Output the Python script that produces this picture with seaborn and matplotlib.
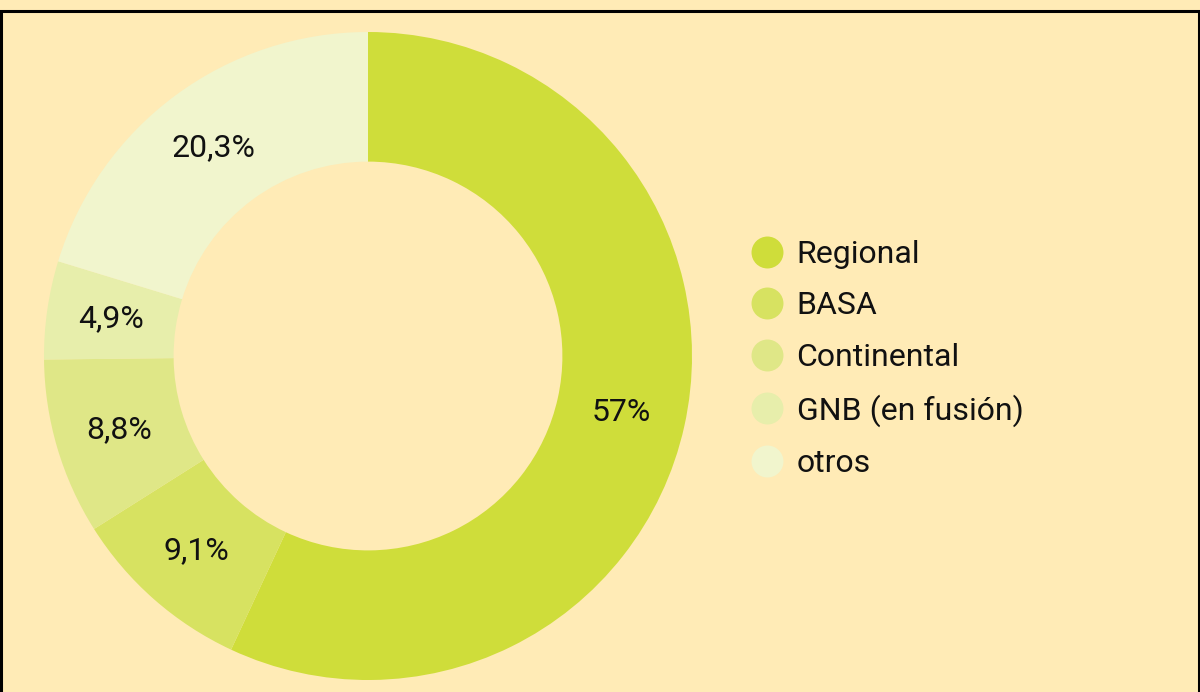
import matplotlib
matplotlib.use("Agg")
import matplotlib.pyplot as plt
import seaborn as sns
from matplotlib.patches import Rectangle
from matplotlib.lines import Line2D

categories = ["Regional", "BASA", "Continental", "GNB (en fusión)", "otros"]
values = [57, 9.1, 8.8, 4.9, 20.3]
labels = ["57%", "9,1%", "8,8%", "4,9%", "20,3%"]
colors = ["#CFDD3A", "#D7E261", "#DFE787", "#E7EEAB", "#F1F5CD"]
bg = "#FFEBB6"

sns.set_theme(style="white")
plt.rcParams["font.family"] = ["Roboto", "DejaVu Sans"]

W, H = 1200, 692
fig = plt.figure(figsize=(W / 100, H / 100), dpi=100)
fig.patch.set_facecolor(bg)

cx, cy, R = 368, 356, 324
ax = fig.add_axes([(cx - R) / W, (H - cy - R) / H, 2 * R / W, 2 * R / H])
ax.set_facecolor(bg)
wedges, texts = ax.pie(values, colors=colors, startangle=90, counterclock=False,
                       radius=1.0, wedgeprops=dict(width=0.4, linewidth=0),
                       labels=labels, labeldistance=0.8,
                       textprops=dict(fontsize=23, color="#111111", ha="center", va="center"))
ax.set_xlim(-1, 1)
ax.set_ylim(-1, 1)
ax.set_aspect("equal")
ax.axis("off")

handles = [Line2D([0], [0], marker="o", linestyle="", markersize=23,
                  markerfacecolor=c, markeredgewidth=0) for c in colors]
leg = fig.legend(handles, categories, loc="upper left",
                 bbox_to_anchor=(734 / W, 1 - 224 / H), frameon=False,
                 fontsize=23, labelspacing=0.70, handletextpad=0.41,
                 handlelength=1.05, borderpad=0)
for t in leg.get_texts():
    t.set_color("#111111")

border = Rectangle((1.2 / W, -0.1), (W - 2.4) / W, 1.1 - 11 / H,
                   transform=fig.transFigure, fill=False, edgecolor="black",
                   linewidth=2.2, clip_on=False)
fig.patches.append(border)

fig.savefig("out.png", dpi=100, facecolor=bg)
